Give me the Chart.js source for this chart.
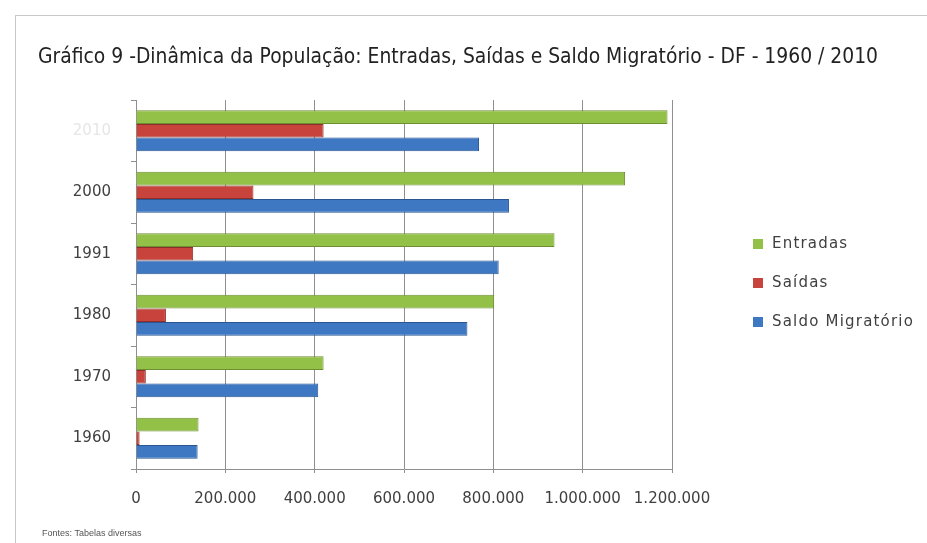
<!DOCTYPE html>
<html>
<head>
<meta charset="utf-8">
<script src="https://cdn.jsdelivr.net/npm/chart.js@4.4.0/dist/chart.umd.min.js"></script>
<style>
  html, body { margin: 0; padding: 0; background: #fff; }
  #wrap { width: 927px; height: 543px; }
</style>
</head>
<body>
<div id="wrap"><canvas id="myChart" width="927" height="543"></canvas></div>
<script>
const categories = ['2010', '2000', '1991', '1980', '1970', '1960'];
const entradas = [1190000, 1095000, 937000, 802000, 420000, 140000];
const saidas = [420000, 263000, 128000, 67000, 22000, 8000];
const saldoMigratorio = [768000, 835000, 812000, 742000, 408000, 138000];
const seriesNames = ['Entradas', 'Saídas', 'Saldo Migratório'];
const chartTitle = 'Gráfico 9 -Dinâmica da População: Entradas, Saídas e Saldo Migratório - DF - 1960 / 2010';
const sourceNote = 'Fontes: Tabelas diversas';

function fmt(v) {
    return String(v).replace(/\B(?=(\d{3})+(?!\d))/g, '.');
}

// frame, title, legend and source note drawn by hand
const decorations = {
    id: 'decorations',
    beforeDraw(chart) {
        const ctx = chart.ctx;
        ctx.save();
        ctx.fillStyle = '#fff';
        ctx.fillRect(0, 0, chart.width, chart.height);
        ctx.strokeStyle = '#c8c8c8';
        ctx.lineWidth = 1;
        ctx.strokeRect(15.5, 15.5, 920, 540);
        ctx.restore();
    },
    afterDraw(chart) {
        const ctx = chart.ctx;
        ctx.save();
        ctx.textBaseline = 'middle';

        // title squeezed to the width it has in the original
        ctx.fillStyle = '#222';
        ctx.font = '22px "DejaVu Sans"';
        ctx.fillText(chartTitle, 38, 57, 840);

        chart.data.datasets.forEach((ds, i) => {
            const y = 244 + i * 39;
            ctx.fillStyle = ds.backgroundColor;
            ctx.fillRect(753, y - 5, 10, 10);
            ctx.fillStyle = '#404040';
            ctx.font = '15px "DejaVu Sans"';
            ctx.letterSpacing = '1.2px';
            ctx.fillText(ds.label, 772, y);
        });

        ctx.letterSpacing = '0px';
        ctx.fillStyle = '#555';
        ctx.font = '9px "Liberation Sans Narrow", "Liberation Sans"';
        ctx.fillText(sourceNote, 42, 534);
        ctx.restore();
    }
};

const canvas = document.getElementById('myChart');
new Chart(canvas, {
    type: 'bar',
    data: {
        labels: categories,
        datasets: [{
            label: seriesNames[0],
            data: entradas,
            backgroundColor: '#93c047',
            borderColor: '#6d8f32',
            borderWidth: 1
        }, {
            label: seriesNames[1],
            data: saidas,
            backgroundColor: '#c9433d',
            borderColor: '#8e2d29',
            borderWidth: 1
        }, {
            label: seriesNames[2],
            data: saldoMigratorio,
            backgroundColor: '#3e78c3',
            borderColor: '#2a5591',
            borderWidth: 1
        }]
    },
    options: {
        indexAxis: 'y',
        responsive: false,
        animation: false,
        layout: {
            padding: { left: 38, right: 255, top: 100, bottom: 18 }
        },
        datasets: {
            bar: { categoryPercentage: 0.67, barPercentage: 1.0 }
        },
        plugins: {
            legend: { display: false },
            tooltip: { enabled: false },
            title: { display: false }
        },
        scales: {
            x: {
                min: 0,
                max: 1200000,
                ticks: {
                    stepSize: 200000,
                    color: '#404040',
                    font: { family: '"DejaVu Sans"', size: 15 },
                    padding: 17,
                    callback: v => fmt(v)
                },
                grid: { color: '#8f8f8f', tickLength: 4 },
                border: { color: '#8f8f8f' }
            },
            y: {
                afterFit: scale => { scale.width = 98; },
                ticks: {
                    color: ctx => ctx.index === 0 ? '#e6e6e6' : '#404040',
                    font: { family: '"DejaVu Sans"', size: 15 },
                    padding: 20
                },
                grid: { drawOnChartArea: false, color: '#8f8f8f', tickLength: 5 },
                border: { color: '#8f8f8f' }
            }
        }
    },
    plugins: [decorations]
});
</script>
</body>
</html>
